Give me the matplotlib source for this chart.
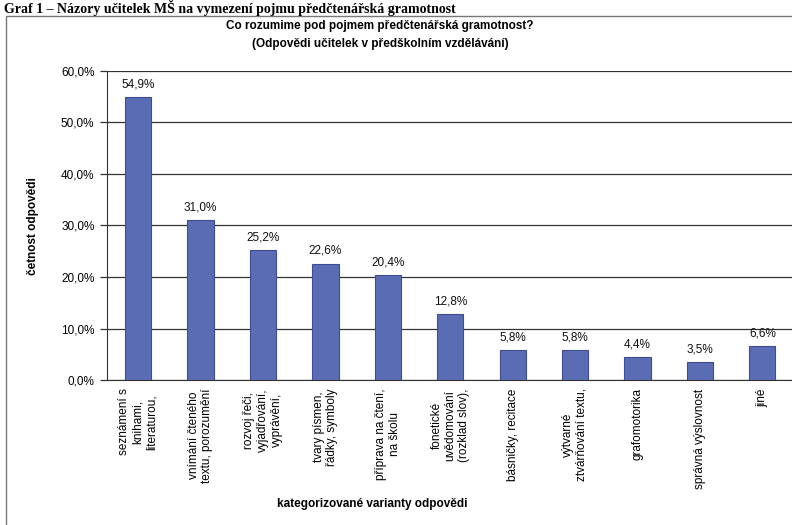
import matplotlib.pyplot as plt
from matplotlib.patches import Rectangle
from matplotlib.ticker import FuncFormatter

plt.rcParams['font.family'] = ['Liberation Sans', 'DejaVu Sans']

categories = [
    'seznámení s\nknihami,\nliteraturou,',
    'vnímání čteného\ntextu, porozumění',
    'rozvoj řeči,\nvyjadřování,\nvyprávění,',
    'tvary písmen,\nřádky, symboly',
    'příprava na čtení,\nna školu',
    'fonetické\nuvědomování\n(rozklad slov),',
    'básničky, recitace',
    'výtvarné\nztvárňování textu,',
    'grafomotorika',
    'správná výslovnost',
    'jiné',
]
values = [54.9, 31.0, 25.2, 22.6, 20.4, 12.8, 5.8, 5.8, 4.4, 3.5, 6.6]
yticks = [0, 10, 20, 30, 40, 50, 60]

fig = plt.figure(figsize=(7.92, 5.25), dpi=100)

# header of the page above the chart
fig.text(0.005, 0.976, 'Graf 1 – Názory učitelek MŠ na vymezení pojmu předčtenářská gramotnost',
         family='Liberation Serif', fontsize=10, fontweight='bold', va='baseline', ha='left')

# chart frame
fig.patches.append(Rectangle((0.008, -0.05), 1.1, 1.02,
                             transform=fig.transFigure, fill=False,
                             edgecolor='#777777', linewidth=1.0))

fig.text(0.48, 0.950, 'Co rozumime pod pojmem předčtenářská gramotnost?',
         ha='center', va='center', fontsize=8.5, fontweight='bold')
fig.text(0.48, 0.917, '(Odpovědi učitelek v předškolním vzdělávání)',
         ha='center', va='center', fontsize=8.5, fontweight='bold')

ax = fig.add_axes([0.135, 0.276, 0.867, 0.589])
x = list(range(len(values)))
ax.bar(x, values, width=0.42, color='#5a6cb4', edgecolor='#3e4c92',
       linewidth=0.8, zorder=3)

for xi, v in zip(x, values):
    ax.text(xi, v + 1.3, f'{v:.1f}%'.replace('.', ','), ha='center', va='bottom',
            fontsize=8.5, color='#111111')

ax.set_xlim(-0.5, len(values) - 0.5)
ax.set_ylim(0, 60)
ax.set_yticks(yticks)
ax.yaxis.set_major_formatter(FuncFormatter(lambda v, p: f'{v:.1f}%'.replace('.', ',')))
ax.yaxis.grid(True, color='#333333', linewidth=0.9, zorder=0)
ax.set_xticks(x)
ax.set_xticklabels(categories, rotation=90, fontsize=8.5, ha='center', va='top',
                   multialignment='center')
ax.tick_params(axis='x', length=0, pad=6)
ax.tick_params(axis='y', length=5, width=0.9, color='#333333', labelsize=8.5, pad=4)

for s in ['top', 'right']:
    ax.spines[s].set_visible(False)
ax.spines['left'].set_color('#333333')
ax.spines['bottom'].set_color('#333333')

fig.text(0.042, 0.57, 'četnost odpovědi', rotation=90, ha='center', va='center',
         fontsize=8.5, fontweight='bold')
fig.text(0.47, 0.04, 'kategorizované varianty odpovědi', ha='center', va='center',
         fontsize=8.5, fontweight='bold')

fig.savefig('out.png', dpi=100)
